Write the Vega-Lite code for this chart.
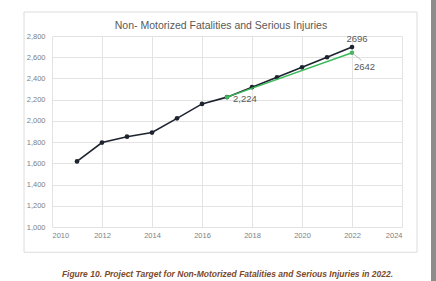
{
  "$schema": "https://vega.github.io/schema/vega-lite/v6.json",
  "width": 350,
  "height": 191,
  "autosize": "none",
  "padding": {"left": 52, "top": 36, "right": 34, "bottom": 54},
  "background": "white",
  "config": {"view": {"stroke": null}, "font": "Liberation Sans"},
  "title": {"text": "Non- Motorized Fatalities and Serious Injuries", "fontSize": 10.5, "fontWeight": "normal", "color": "#595959", "offset": -31, "anchor": "middle", "dx": -6},
  "datasets": {
    "actual": [
      {"year": 2011, "value": 1618},
      {"year": 2012, "value": 1796},
      {"year": 2013, "value": 1851},
      {"year": 2014, "value": 1890},
      {"year": 2015, "value": 2024},
      {"year": 2016, "value": 2160},
      {"year": 2017, "value": 2224},
      {"year": 2018, "value": 2318},
      {"year": 2019, "value": 2411},
      {"year": 2020, "value": 2505},
      {"year": 2021, "value": 2600},
      {"year": 2022, "value": 2696}
    ],
    "target": [
      {"year": 2017, "value": 2224},
      {"year": 2022, "value": 2642}
    ],
    "box": [{"year": 2008.88, "year2": 2024.6, "value": 762, "value2": 3026}],
    "edge": [{"year": 2025.16, "year2": 2025.5, "value": 491, "value2": 3139}],
    "labels": [
      {"year": 2017, "value": 2224, "text": "2,224", "kind": "a"},
      {"year": 2022, "value": 2696, "text": "2696", "kind": "b"},
      {"year": 2022, "value": 2642, "text": "2642", "kind": "c"}
    ],
    "leader": [{"year": 2022, "value": 2642, "year2": 2022.38, "value2": 2570}]
  },
  "encoding": {
    "x": {"field": "year", "type": "quantitative", "scale": {"domain": [2010, 2024], "nice": false, "zero": false},
      "axis": {"values": [2010, 2012, 2014, 2016, 2018, 2020, 2022, 2024], "format": "d", "labelFontSize": 7.5, "labelColor": "#808080", "labelPadding": 4, "labelOverlap": false, "grid": true, "gridColor": "#e3e3e3", "domain": false, "ticks": false,
        "title": "Figure 10. Project Target for Non-Motorized Fatalities and Serious Injuries in 2022.", "titleFontSize": 8.5, "titleFontStyle": "italic", "titleFontWeight": "bold", "titleColor": "#7b4a2b", "titlePadding": 31, "titleFont": "Liberation Sans"}},
    "y": {"field": "value", "type": "quantitative", "scale": {"domain": [1000, 2800], "nice": false, "zero": false},
      "axis": {"values": [1000, 1200, 1400, 1600, 1800, 2000, 2200, 2400, 2600, 2800], "format": ",.0f", "labelFontSize": 7.5, "labelColor": "#808080", "labelPadding": 7, "labelOverlap": false, "grid": true, "gridColor": "#e3e3e3", "domain": false, "ticks": false, "title": null}}
  },
  "layer": [
    {
      "data": {"name": "box"},
      "mark": {"type": "rect", "fill": null, "stroke": "#dcdcdc", "strokeWidth": 1, "clip": false},
      "encoding": {
        "x2": {"field": "year2"},
        "y2": {"field": "value2"}
      }
    },
    {
      "data": {"name": "edge"},
      "mark": {"type": "rect", "fill": "#8c8c8c", "clip": false},
      "encoding": {
        "x2": {"field": "year2"},
        "y2": {"field": "value2"}
      }
    },
    {
      "data": {"name": "actual"},
      "mark": {"type": "line", "color": "#1e2330", "strokeWidth": 1.6, "point": {"filled": true, "size": 22, "color": "#1e2330"}}
    },
    {
      "data": {"name": "target"},
      "mark": {"type": "line", "color": "#3cb95a", "strokeWidth": 1.5, "point": {"filled": true, "size": 20, "color": "#3cb95a"}}
    },
    {
      "data": {"name": "leader"},
      "mark": {"type": "rule", "color": "#a0a0a0", "strokeWidth": 0.7},
      "encoding": {
        "x2": {"field": "year2"},
        "y2": {"field": "value2"}
      }
    },
    {
      "data": {"name": "labels"},
      "transform": [{"filter": "datum.kind == 'a'"}],
      "mark": {"type": "text", "align": "left", "baseline": "middle", "dx": 6, "dy": 2, "fontSize": 9.5, "color": "#595959"},
      "encoding": {"text": {"field": "text"}}
    },
    {
      "data": {"name": "labels"},
      "transform": [{"filter": "datum.kind == 'b'"}],
      "mark": {"type": "text", "align": "center", "baseline": "middle", "dx": 5, "dy": -8, "fontSize": 9.5, "color": "#595959"},
      "encoding": {"text": {"field": "text"}}
    },
    {
      "data": {"name": "labels"},
      "transform": [{"filter": "datum.kind == 'c'"}],
      "mark": {"type": "text", "align": "left", "baseline": "middle", "dx": 2, "dy": 14, "fontSize": 9.5, "color": "#595959"},
      "encoding": {"text": {"field": "text"}}
    }
  ]
}
